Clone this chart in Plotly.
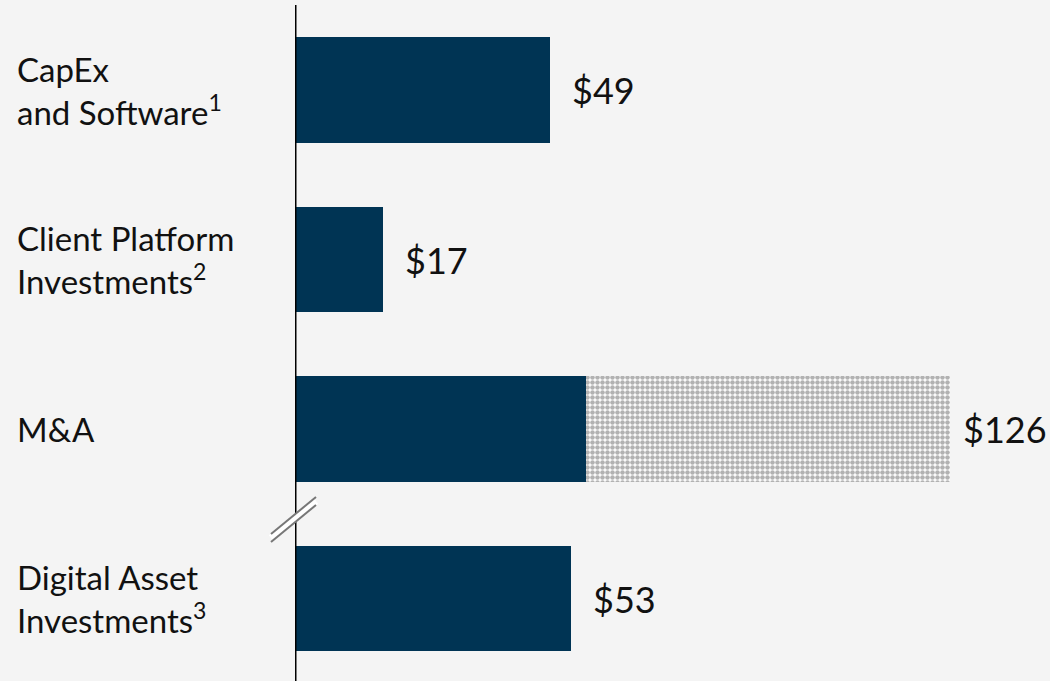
import plotly.graph_objects as go

categories = ["CapEx<br>and Software<sup>1</sup>",
              "Client Platform<br>Investments<sup>2</sup>",
              "M&A",
              "Digital Asset<br>Investments<sup>3</sup>"]
solid_values = [49, 17, 56, 53]
hatched_values = [0, 0, 70, 0]
value_labels = ["$49", "$17", "$126", "$53"]

W, H = 1050, 681
BG = "#f4f4f4"
NAVY = "#003454"
x0_px = 295
px_per_unit = 5.2
xmax = (W - x0_px) / px_per_unit
c0, step = 90, 169.5
y_top = -c0 / step
y_bot = (H - c0) / step

pos = list(range(len(categories)))
totals = [s + h for s, h in zip(solid_values, hatched_values)]

fig = go.Figure()
fig.add_trace(go.Bar(y=pos, x=solid_values, orientation="h",
                     marker=dict(color=NAVY, line=dict(width=0)),
                     width=0.625, hoverinfo="skip"))
fig.add_trace(go.Bar(y=pos, x=hatched_values, orientation="h",
                     marker=dict(color="white", line=dict(width=0),
                                 pattern=dict(shape=".", fgcolor="#666666",
                                              bgcolor="white", size=5, solidity=0.65)),
                     width=0.625, hoverinfo="skip"))

annotations = []
for p, cat in zip(pos, categories):
    annotations.append(dict(x=15 / W, xref="paper", y=p, yref="y", text=cat,
                            xanchor="left", yanchor="middle", align="left", showarrow=False,
                            font=dict(family="Lato", size=33, color="#111111")))
for p, t, lab, h in zip(pos, totals, value_labels, hatched_values):
    annotations.append(dict(x=t, xref="x", y=p, yref="y", text=lab,
                            xshift=11 if h else 20,
                            xanchor="left", yanchor="middle", showarrow=False,
                            font=dict(family="Lato", size=36, color="#111111")))

def px(x, y):
    return x / W, 1 - y / H

shapes = []
# vertical axis line
shapes.append(dict(type="line", xref="x", yref="paper", x0=0, x1=0,
                   y0=0, y1=1 - 5 / H, line=dict(color="#000000", width=3)))
# axis break mark
bx0, by0, bx1, by1 = 271, 538, 316, 501
a0 = px(bx0, by0); a1 = px(bx1, by1)
shapes.append(dict(type="line", xref="paper", yref="paper", x0=a0[0], y0=a0[1],
                   x1=a1[0], y1=a1[1], line=dict(color="white", width=7)))
for d in (-4, 4):
    b0 = px(bx0, by0 + d); b1 = px(bx1, by1 + d)
    shapes.append(dict(type="line", xref="paper", yref="paper", x0=b0[0], y0=b0[1],
                       x1=b1[0], y1=b1[1], line=dict(color="#777777", width=2)))

fig.update_layout(
    width=W, height=H, barmode="stack", showlegend=False,
    paper_bgcolor=BG, plot_bgcolor=BG,
    margin=dict(l=0, r=0, t=0, b=0),
    xaxis=dict(domain=[x0_px / W, 1], range=[0, xmax], visible=False, fixedrange=True),
    yaxis=dict(range=[y_bot, y_top], visible=False, fixedrange=True),
    annotations=annotations, shapes=shapes,
)
fig.write_html("out.html")
